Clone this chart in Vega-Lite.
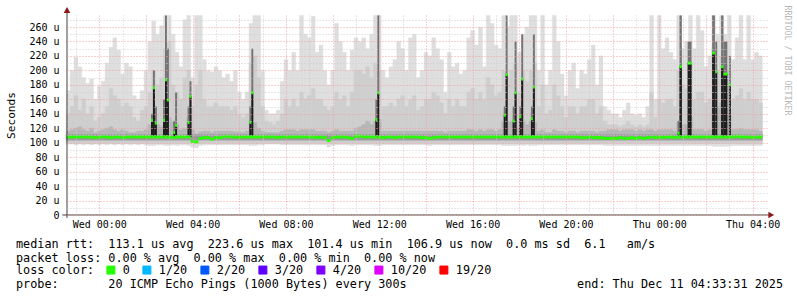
{
"$schema":"https://vega.github.io/schema/vega-lite/v6.json",
"width":700,"height":200,
"autosize":{"type":"none"},
"padding":{"left":67,"top":15,"right":30,"bottom":82},
"background":"#ffffff",
"config":{"view":{"stroke":null}},
"title":{"text":["median rtt:\u00a0\u00a0113.1 us avg\u00a0\u00a0223.6 us max\u00a0\u00a0101.4 us min\u00a0\u00a0106.9 us now\u00a0\u00a00.0 ms sd\u00a0\u00a06.1\u00a0\u00a0\u00a0am/s","packet loss: 0.00 % avg\u00a0\u00a00.00 % max\u00a0\u00a00.00 % min\u00a0\u00a00.00 % now"],
"subtitle":"probe:\u00a0\u00a0\u00a0\u00a0\u00a0\u00a0\u00a020 ICMP Echo Pings (1000 Bytes) every 300s\u00a0\u00a0\u00a0\u00a0\u00a0\u00a0\u00a0\u00a0\u00a0\u00a0\u00a0\u00a0\u00a0\u00a0\u00a0\u00a0\u00a0\u00a0\u00a0\u00a0\u00a0\u00a0\u00a0\u00a0end: Thu Dec 11 04:33:31 2025",
"subtitleFont":"DejaVu Sans Mono","subtitleFontSize":11.8,"subtitleFontWeight":"normal","subtitleColor":"#000000","subtitlePadding":14.4,
"orient":"bottom","anchor":"start","frame":"group","font":"DejaVu Sans Mono","fontSize":11.8,"fontWeight":"normal","color":"#000000","lineHeight":13.9,"offset":6,"dx":-51,"dy":-44,"baseline":"top"},
"datasets":{
"cols":[
{"t":-85,"t2":-75,"lo":98,"q":116,"mid":140,"hi":172,"med":108,"loss":"0"},
{"t":-75,"t2":-65,"lo":98,"q":118,"mid":150,"hi":200,"med":108,"loss":"0"},
{"t":-65,"t2":-55,"lo":97,"q":120,"mid":165,"hi":218,"med":108,"loss":"0"},
{"t":-55,"t2":-45,"lo":98,"q":122,"mid":145,"hi":205,"med":108,"loss":"0"},
{"t":-45,"t2":-35,"lo":97,"q":118,"mid":160,"hi":190,"med":108,"loss":"0"},
{"t":-35,"t2":-25,"lo":98,"q":116,"mid":140,"hi":182,"med":108,"loss":"0"},
{"t":-25,"t2":-15,"lo":97,"q":120,"mid":150,"hi":188,"med":108,"loss":"0"},
{"t":-15,"t2":-5,"lo":98,"q":114,"mid":130,"hi":160,"med":107,"loss":"0"},
{"t":-5,"t2":5,"lo":97,"q":116,"mid":135,"hi":178,"med":108,"loss":"0"},
{"t":5,"t2":15,"lo":98,"q":118,"mid":140,"hi":185,"med":108,"loss":"0"},
{"t":15,"t2":25,"lo":97,"q":120,"mid":150,"hi":210,"med":108,"loss":"0"},
{"t":25,"t2":35,"lo":98,"q":122,"mid":175,"hi":232,"med":107,"loss":"0"},
{"t":35,"t2":45,"lo":97,"q":118,"mid":165,"hi":245,"med":108,"loss":"0"},
{"t":45,"t2":55,"lo":98,"q":116,"mid":160,"hi":228,"med":108,"loss":"0"},
{"t":55,"t2":65,"lo":97,"q":118,"mid":150,"hi":195,"med":107,"loss":"0"},
{"t":65,"t2":75,"lo":98,"q":116,"mid":155,"hi":210,"med":108,"loss":"0"},
{"t":75,"t2":85,"lo":97,"q":114,"mid":150,"hi":205,"med":108,"loss":"0"},
{"t":85,"t2":95,"lo":98,"q":114,"mid":135,"hi":165,"med":108,"loss":"0"},
{"t":95,"t2":105,"lo":97,"q":116,"mid":130,"hi":160,"med":108,"loss":"0"},
{"t":105,"t2":115,"lo":98,"q":116,"mid":145,"hi":172,"med":108,"loss":"0"},
{"t":115,"t2":125,"lo":97,"q":118,"mid":150,"hi":200,"med":108,"loss":"0"},
{"t":125,"t2":135,"lo":96,"q":125,"mid":170,"hi":240,"med":108,"loss":"0"},
{"t":135,"t2":145,"lo":96,"q":135,"mid":200,"hi":268,"med":108,"loss":"0"},
{"t":145,"t2":155,"lo":97,"q":125,"mid":180,"hi":250,"med":108,"loss":"0"},
{"t":155,"t2":165,"lo":97,"q":122,"mid":190,"hi":262,"med":108,"loss":"0"},
{"t":165,"t2":175,"lo":96,"q":140,"mid":230,"hi":276,"med":108,"loss":"0"},
{"t":175,"t2":185,"lo":96,"q":135,"mid":240,"hi":276,"med":108,"loss":"0"},
{"t":185,"t2":195,"lo":97,"q":130,"mid":180,"hi":250,"med":107,"loss":"0"},
{"t":195,"t2":205,"lo":96,"q":125,"mid":170,"hi":225,"med":108,"loss":"0"},
{"t":205,"t2":215,"lo":97,"q":118,"mid":160,"hi":205,"med":108,"loss":"0"},
{"t":215,"t2":225,"lo":97,"q":120,"mid":190,"hi":270,"med":108,"loss":"0"},
{"t":225,"t2":235,"lo":96,"q":135,"mid":200,"hi":276,"med":108,"loss":"0"},
{"t":235,"t2":245,"lo":94,"q":118,"mid":150,"hi":190,"med":102,"loss":"0"},
{"t":245,"t2":255,"lo":93,"q":112,"mid":180,"hi":276,"med":101,"loss":"0"},
{"t":255,"t2":265,"lo":96,"q":115,"mid":200,"hi":276,"med":106,"loss":"0"},
{"t":265,"t2":275,"lo":97,"q":116,"mid":160,"hi":215,"med":107,"loss":"0"},
{"t":275,"t2":285,"lo":97,"q":116,"mid":150,"hi":200,"med":107,"loss":"0"},
{"t":285,"t2":295,"lo":97,"q":114,"mid":150,"hi":198,"med":105,"loss":"0"},
{"t":295,"t2":305,"lo":97,"q":116,"mid":155,"hi":205,"med":107,"loss":"0"},
{"t":305,"t2":315,"lo":97,"q":116,"mid":150,"hi":200,"med":107,"loss":"0"},
{"t":315,"t2":325,"lo":97,"q":116,"mid":150,"hi":190,"med":108,"loss":"0"},
{"t":325,"t2":335,"lo":97,"q":116,"mid":150,"hi":195,"med":109,"loss":"0"},
{"t":335,"t2":345,"lo":97,"q":116,"mid":145,"hi":185,"med":108,"loss":"0"},
{"t":345,"t2":355,"lo":97,"q":115,"mid":150,"hi":200,"med":108,"loss":"0"},
{"t":355,"t2":365,"lo":97,"q":115,"mid":140,"hi":170,"med":107,"loss":"0"},
{"t":365,"t2":375,"lo":97,"q":114,"mid":135,"hi":160,"med":108,"loss":"0"},
{"t":375,"t2":385,"lo":97,"q":116,"mid":140,"hi":170,"med":108,"loss":"0"},
{"t":385,"t2":395,"lo":96,"q":130,"mid":210,"hi":265,"med":108,"loss":"0"},
{"t":395,"t2":405,"lo":96,"q":128,"mid":220,"hi":276,"med":108,"loss":"0"},
{"t":405,"t2":415,"lo":97,"q":120,"mid":190,"hi":276,"med":108,"loss":"0"},
{"t":415,"t2":425,"lo":97,"q":116,"mid":150,"hi":200,"med":108,"loss":"0"},
{"t":425,"t2":435,"lo":98,"q":114,"mid":130,"hi":145,"med":108,"loss":"0"},
{"t":435,"t2":445,"lo":98,"q":114,"mid":128,"hi":140,"med":108,"loss":"0"},
{"t":445,"t2":455,"lo":98,"q":114,"mid":125,"hi":140,"med":108,"loss":"0"},
{"t":455,"t2":465,"lo":98,"q":114,"mid":130,"hi":145,"med":107,"loss":"0"},
{"t":465,"t2":475,"lo":97,"q":116,"mid":140,"hi":185,"med":108,"loss":"0"},
{"t":475,"t2":485,"lo":97,"q":118,"mid":160,"hi":215,"med":108,"loss":"0"},
{"t":485,"t2":495,"lo":97,"q":118,"mid":150,"hi":200,"med":108,"loss":"0"},
{"t":495,"t2":505,"lo":97,"q":118,"mid":160,"hi":225,"med":108,"loss":"0"},
{"t":505,"t2":515,"lo":97,"q":116,"mid":150,"hi":200,"med":108,"loss":"0"},
{"t":515,"t2":525,"lo":97,"q":118,"mid":170,"hi":276,"med":108,"loss":"0"},
{"t":525,"t2":535,"lo":97,"q":118,"mid":160,"hi":250,"med":108,"loss":"0"},
{"t":535,"t2":545,"lo":97,"q":118,"mid":165,"hi":245,"med":108,"loss":"0"},
{"t":545,"t2":555,"lo":97,"q":118,"mid":175,"hi":275,"med":108,"loss":"0"},
{"t":555,"t2":565,"lo":97,"q":116,"mid":160,"hi":225,"med":107,"loss":"0"},
{"t":565,"t2":575,"lo":97,"q":116,"mid":160,"hi":235,"med":108,"loss":"0"},
{"t":575,"t2":585,"lo":97,"q":116,"mid":150,"hi":200,"med":107,"loss":"0"},
{"t":585,"t2":595,"lo":94,"q":114,"mid":145,"hi":180,"med":103,"loss":"0"},
{"t":595,"t2":605,"lo":96,"q":116,"mid":150,"hi":200,"med":107,"loss":"0"},
{"t":605,"t2":615,"lo":97,"q":118,"mid":170,"hi":265,"med":108,"loss":"0"},
{"t":615,"t2":625,"lo":97,"q":116,"mid":160,"hi":240,"med":108,"loss":"0"},
{"t":625,"t2":635,"lo":97,"q":116,"mid":165,"hi":225,"med":108,"loss":"0"},
{"t":635,"t2":645,"lo":97,"q":116,"mid":150,"hi":200,"med":107,"loss":"0"},
{"t":645,"t2":655,"lo":96,"q":116,"mid":170,"hi":228,"med":106,"loss":"0"},
{"t":655,"t2":665,"lo":97,"q":120,"mid":200,"hi":245,"med":109,"loss":"0"},
{"t":665,"t2":675,"lo":97,"q":122,"mid":200,"hi":240,"med":109,"loss":"0"},
{"t":675,"t2":685,"lo":97,"q":125,"mid":195,"hi":245,"med":108,"loss":"0"},
{"t":685,"t2":695,"lo":97,"q":130,"mid":205,"hi":230,"med":108,"loss":"0"},
{"t":695,"t2":705,"lo":97,"q":125,"mid":190,"hi":250,"med":108,"loss":"0"},
{"t":705,"t2":715,"lo":96,"q":130,"mid":210,"hi":276,"med":108,"loss":"0"},
{"t":715,"t2":725,"lo":96,"q":132,"mid":200,"hi":276,"med":108,"loss":"0"},
{"t":725,"t2":735,"lo":97,"q":116,"mid":150,"hi":200,"med":107,"loss":"0"},
{"t":735,"t2":745,"lo":97,"q":116,"mid":150,"hi":190,"med":108,"loss":"0"},
{"t":745,"t2":755,"lo":97,"q":116,"mid":155,"hi":205,"med":108,"loss":"0"},
{"t":755,"t2":765,"lo":97,"q":116,"mid":150,"hi":215,"med":107,"loss":"0"},
{"t":765,"t2":775,"lo":97,"q":116,"mid":160,"hi":240,"med":108,"loss":"0"},
{"t":775,"t2":785,"lo":97,"q":116,"mid":165,"hi":230,"med":108,"loss":"0"},
{"t":785,"t2":795,"lo":97,"q":116,"mid":150,"hi":200,"med":108,"loss":"0"},
{"t":795,"t2":805,"lo":97,"q":116,"mid":160,"hi":245,"med":108,"loss":"0"},
{"t":805,"t2":815,"lo":97,"q":116,"mid":165,"hi":250,"med":108,"loss":"0"},
{"t":815,"t2":825,"lo":97,"q":116,"mid":145,"hi":190,"med":108,"loss":"0"},
{"t":825,"t2":835,"lo":97,"q":116,"mid":150,"hi":200,"med":107,"loss":"0"},
{"t":835,"t2":845,"lo":97,"q":116,"mid":160,"hi":225,"med":107,"loss":"0"},
{"t":845,"t2":855,"lo":96,"q":116,"mid":160,"hi":220,"med":106,"loss":"0"},
{"t":855,"t2":865,"lo":97,"q":116,"mid":170,"hi":245,"med":107,"loss":"0"},
{"t":865,"t2":875,"lo":97,"q":116,"mid":165,"hi":230,"med":108,"loss":"0"},
{"t":875,"t2":885,"lo":97,"q":116,"mid":155,"hi":215,"med":108,"loss":"0"},
{"t":885,"t2":895,"lo":97,"q":114,"mid":140,"hi":170,"med":108,"loss":"0"},
{"t":895,"t2":905,"lo":97,"q":116,"mid":160,"hi":225,"med":108,"loss":"0"},
{"t":905,"t2":915,"lo":97,"q":116,"mid":150,"hi":205,"med":108,"loss":"0"},
{"t":915,"t2":925,"lo":97,"q":116,"mid":160,"hi":210,"med":108,"loss":"0"},
{"t":925,"t2":935,"lo":97,"q":116,"mid":150,"hi":195,"med":108,"loss":"0"},
{"t":935,"t2":945,"lo":97,"q":116,"mid":150,"hi":200,"med":108,"loss":"0"},
{"t":945,"t2":955,"lo":97,"q":118,"mid":170,"hi":245,"med":108,"loss":"0"},
{"t":955,"t2":965,"lo":97,"q":118,"mid":175,"hi":255,"med":108,"loss":"0"},
{"t":965,"t2":975,"lo":97,"q":116,"mid":160,"hi":235,"med":108,"loss":"0"},
{"t":975,"t2":985,"lo":97,"q":118,"mid":170,"hi":260,"med":108,"loss":"0"},
{"t":985,"t2":995,"lo":97,"q":116,"mid":160,"hi":205,"med":108,"loss":"0"},
{"t":995,"t2":1005,"lo":97,"q":118,"mid":190,"hi":276,"med":108,"loss":"0"},
{"t":1005,"t2":1015,"lo":97,"q":118,"mid":180,"hi":265,"med":108,"loss":"0"},
{"t":1015,"t2":1025,"lo":97,"q":116,"mid":165,"hi":235,"med":108,"loss":"0"},
{"t":1025,"t2":1035,"lo":97,"q":118,"mid":170,"hi":230,"med":108,"loss":"0"},
{"t":1035,"t2":1045,"lo":96,"q":130,"mid":200,"hi":276,"med":108,"loss":"0"},
{"t":1045,"t2":1055,"lo":96,"q":128,"mid":190,"hi":260,"med":108,"loss":"0"},
{"t":1055,"t2":1065,"lo":96,"q":130,"mid":200,"hi":276,"med":108,"loss":"0"},
{"t":1065,"t2":1075,"lo":96,"q":130,"mid":210,"hi":276,"med":108,"loss":"0"},
{"t":1075,"t2":1085,"lo":97,"q":120,"mid":170,"hi":225,"med":108,"loss":"0"},
{"t":1085,"t2":1095,"lo":96,"q":130,"mid":200,"hi":250,"med":108,"loss":"0"},
{"t":1095,"t2":1105,"lo":97,"q":125,"mid":185,"hi":260,"med":108,"loss":"0"},
{"t":1105,"t2":1115,"lo":96,"q":130,"mid":200,"hi":276,"med":108,"loss":"0"},
{"t":1115,"t2":1125,"lo":96,"q":128,"mid":210,"hi":276,"med":108,"loss":"0"},
{"t":1125,"t2":1135,"lo":97,"q":116,"mid":150,"hi":200,"med":108,"loss":"0"},
{"t":1135,"t2":1145,"lo":97,"q":118,"mid":180,"hi":276,"med":108,"loss":"0"},
{"t":1145,"t2":1155,"lo":97,"q":114,"mid":140,"hi":180,"med":108,"loss":"0"},
{"t":1155,"t2":1165,"lo":97,"q":114,"mid":145,"hi":200,"med":108,"loss":"0"},
{"t":1165,"t2":1175,"lo":97,"q":118,"mid":180,"hi":276,"med":108,"loss":"0"},
{"t":1175,"t2":1185,"lo":97,"q":116,"mid":165,"hi":240,"med":108,"loss":"0"},
{"t":1185,"t2":1195,"lo":97,"q":116,"mid":150,"hi":195,"med":108,"loss":"0"},
{"t":1195,"t2":1205,"lo":97,"q":114,"mid":135,"hi":165,"med":108,"loss":"0"},
{"t":1205,"t2":1215,"lo":97,"q":116,"mid":150,"hi":200,"med":108,"loss":"0"},
{"t":1215,"t2":1225,"lo":97,"q":116,"mid":150,"hi":210,"med":108,"loss":"0"},
{"t":1225,"t2":1235,"lo":97,"q":114,"mid":140,"hi":175,"med":108,"loss":"0"},
{"t":1235,"t2":1245,"lo":97,"q":116,"mid":150,"hi":200,"med":107,"loss":"0"},
{"t":1245,"t2":1255,"lo":97,"q":116,"mid":150,"hi":195,"med":107,"loss":"0"},
{"t":1255,"t2":1265,"lo":97,"q":116,"mid":160,"hi":215,"med":108,"loss":"0"},
{"t":1265,"t2":1275,"lo":97,"q":116,"mid":160,"hi":235,"med":107,"loss":"0"},
{"t":1275,"t2":1285,"lo":97,"q":114,"mid":140,"hi":180,"med":107,"loss":"0"},
{"t":1285,"t2":1295,"lo":97,"q":116,"mid":150,"hi":220,"med":107,"loss":"0"},
{"t":1295,"t2":1305,"lo":96,"q":116,"mid":130,"hi":150,"med":106,"loss":"0"},
{"t":1305,"t2":1315,"lo":96,"q":118,"mid":125,"hi":145,"med":106,"loss":"0"},
{"t":1315,"t2":1325,"lo":96,"q":118,"mid":125,"hi":140,"med":106,"loss":"0"},
{"t":1325,"t2":1335,"lo":96,"q":118,"mid":125,"hi":140,"med":106,"loss":"0"},
{"t":1335,"t2":1345,"lo":96,"q":116,"mid":122,"hi":135,"med":107,"loss":"0"},
{"t":1345,"t2":1355,"lo":96,"q":118,"mid":125,"hi":145,"med":106,"loss":"0"},
{"t":1355,"t2":1365,"lo":96,"q":118,"mid":130,"hi":155,"med":106,"loss":"0"},
{"t":1365,"t2":1375,"lo":96,"q":118,"mid":125,"hi":140,"med":107,"loss":"0"},
{"t":1375,"t2":1385,"lo":96,"q":116,"mid":122,"hi":138,"med":106,"loss":"0"},
{"t":1385,"t2":1395,"lo":96,"q":118,"mid":125,"hi":140,"med":107,"loss":"0"},
{"t":1395,"t2":1405,"lo":96,"q":116,"mid":122,"hi":135,"med":106,"loss":"0"},
{"t":1405,"t2":1415,"lo":96,"q":118,"mid":125,"hi":150,"med":107,"loss":"0"},
{"t":1415,"t2":1425,"lo":96,"q":118,"mid":170,"hi":276,"med":108,"loss":"0"},
{"t":1425,"t2":1435,"lo":96,"q":116,"mid":135,"hi":160,"med":107,"loss":"0"},
{"t":1435,"t2":1445,"lo":96,"q":118,"mid":160,"hi":276,"med":108,"loss":"0"},
{"t":1445,"t2":1455,"lo":96,"q":118,"mid":155,"hi":230,"med":107,"loss":"0"},
{"t":1455,"t2":1465,"lo":96,"q":118,"mid":160,"hi":245,"med":108,"loss":"0"},
{"t":1465,"t2":1475,"lo":96,"q":118,"mid":160,"hi":225,"med":108,"loss":"0"},
{"t":1475,"t2":1485,"lo":96,"q":116,"mid":150,"hi":215,"med":107,"loss":"0"},
{"t":1485,"t2":1495,"lo":96,"q":130,"mid":200,"hi":276,"med":108,"loss":"0"},
{"t":1495,"t2":1505,"lo":96,"q":125,"mid":180,"hi":230,"med":108,"loss":"0"},
{"t":1505,"t2":1515,"lo":96,"q":125,"mid":175,"hi":240,"med":108,"loss":"0"},
{"t":1515,"t2":1525,"lo":96,"q":135,"mid":210,"hi":276,"med":108,"loss":"0"},
{"t":1525,"t2":1535,"lo":96,"q":118,"mid":160,"hi":230,"med":108,"loss":"0"},
{"t":1535,"t2":1545,"lo":96,"q":118,"mid":170,"hi":276,"med":108,"loss":"0"},
{"t":1545,"t2":1555,"lo":96,"q":118,"mid":170,"hi":255,"med":108,"loss":"0"},
{"t":1555,"t2":1565,"lo":96,"q":116,"mid":155,"hi":205,"med":108,"loss":"0"},
{"t":1565,"t2":1575,"lo":96,"q":118,"mid":160,"hi":220,"med":108,"loss":"0"},
{"t":1575,"t2":1585,"lo":95,"q":150,"mid":230,"hi":276,"med":108,"loss":"0"},
{"t":1585,"t2":1595,"lo":95,"q":150,"mid":200,"hi":250,"med":108,"loss":"0"},
{"t":1595,"t2":1605,"lo":95,"q":155,"mid":220,"hi":276,"med":108,"loss":"0"},
{"t":1605,"t2":1615,"lo":95,"q":150,"mid":210,"hi":250,"med":108,"loss":"0"},
{"t":1615,"t2":1625,"lo":95,"q":140,"mid":200,"hi":276,"med":108,"loss":"0"},
{"t":1625,"t2":1635,"lo":96,"q":118,"mid":160,"hi":215,"med":108,"loss":"0"},
{"t":1635,"t2":1645,"lo":96,"q":118,"mid":165,"hi":245,"med":109,"loss":"0"},
{"t":1645,"t2":1655,"lo":96,"q":120,"mid":175,"hi":276,"med":108,"loss":"0"},
{"t":1655,"t2":1665,"lo":96,"q":118,"mid":160,"hi":215,"med":108,"loss":"0"},
{"t":1665,"t2":1675,"lo":96,"q":118,"mid":170,"hi":276,"med":108,"loss":"0"},
{"t":1675,"t2":1685,"lo":96,"q":118,"mid":160,"hi":215,"med":107,"loss":"0"},
{"t":1685,"t2":1695,"lo":96,"q":118,"mid":160,"hi":225,"med":108,"loss":"0"},
{"t":1695,"t2":1705,"lo":96,"q":116,"mid":155,"hi":220,"med":108,"loss":"0"}
],
"spikes":[
{"t":133,"t2":138,"top":140,"med":131,"loss":"0"},
{"t":138,"t2":143,"top":200,"med":176,"loss":"0"},
{"t":143,"t2":148,"top":150,"med":127,"loss":"0"},
{"t":164,"t2":169,"top":160,"med":131,"loss":"0"},
{"t":169,"t2":174,"top":276,"med":187,"loss":"0"},
{"t":174,"t2":179,"top":230,"med":159,"loss":"0"},
{"t":190,"t2":195,"top":130,"med":114,"loss":"0"},
{"t":195,"t2":200,"top":170,"med":124,"loss":"0"},
{"t":227,"t2":232,"top":150,"med":128,"loss":"0"},
{"t":232,"t2":237,"top":185,"med":164,"loss":"0"},
{"t":386,"t2":391,"top":150,"med":128,"loss":"0"},
{"t":391,"t2":396,"top":230,"med":169,"loss":"0"},
{"t":710,"t2":715,"top":160,"med":132,"loss":"0"},
{"t":715,"t2":720,"top":276,"med":169,"loss":"0"},
{"t":1040,"t2":1045,"top":150,"med":138,"loss":"0"},
{"t":1045,"t2":1050,"top":276,"med":194,"loss":"0"},
{"t":1063,"t2":1068,"top":150,"med":130,"loss":"0"},
{"t":1068,"t2":1073,"top":240,"med":169,"loss":"0"},
{"t":1080,"t2":1085,"top":150,"med":136,"loss":"0"},
{"t":1085,"t2":1090,"top":250,"med":188,"loss":"0"},
{"t":1110,"t2":1115,"top":150,"med":133,"loss":"0"},
{"t":1115,"t2":1120,"top":250,"med":177,"loss":"0"},
{"t":1487,"t2":1492,"top":130,"med":113,"loss":"0"},
{"t":1492,"t2":1498,"top":276,"med":205,"loss":"0"},
{"t":1513,"t2":1523,"top":240,"med":210,"loss":"0"},
{"t":1576,"t2":1583,"top":276,"med":224,"loss":"0"},
{"t":1584,"t2":1589,"top":240,"med":198,"loss":"0"},
{"t":1599,"t2":1605,"top":276,"med":205,"loss":"0"},
{"t":1605,"t2":1615,"top":240,"med":195,"loss":"0"},
{"t":1619,"t2":1624,"top":220,"med":180,"loss":"0"}
]
},
"layer":[
{"data":{"name":"cols"},
 "mark":{"type":"rect","color":"#DEDEDE","stroke":"#DEDEDE","strokeWidth":0.4},
 "encoding":{
  "x":{"field":"t","type":"quantitative","scale":{"domain":[-83,1717],"nice":false,"zero":false},
   "axis":{"orient":"bottom","title":null,"values":[-60,0,60,120,180,240,300,360,420,480,540,600,660,720,780,840,900,960,1020,1080,1140,1200,1260,1320,1380,1440,1500,1560,1620,1680],
    "domain":false,"ticks":false,"tickSize":0,
    "labelExpr":"datum.value % 240 == 0 ? ((datum.value < 1440 ? 'Wed ' : 'Thu ') + (datum.value % 1440 < 600 ? '0' : '') + floor((datum.value % 1440) / 60) + ':00') : ''",
    "labelFont":"DejaVu Sans Mono","labelFontSize":10,"labelColor":"#000000","labelPadding":4,"labelOverlap":false,"labelFlush":false,
    "grid":true,"gridColor":{"condition":{"test":"datum.value % 120 == 0","value":"#F0A0A0"},"value":"#CFCFCF"},"gridDash":[1,2],"gridWidth":1,"gridOpacity":1,"zindex":1}},
  "x2":{"field":"t2"},
  "y":{"field":"hi","type":"quantitative","scale":{"domain":[0,276.6],"nice":false,"zero":false},
   "axis":{"orient":"left","values":[0,10,20,30,40,50,60,70,80,90,100,110,120,130,140,150,160,170,180,190,200,210,220,230,240,250,260,270],
    "title":"Seconds","titleFont":"DejaVu Sans Mono","titleFontSize":11.1,"titleFontWeight":"normal","titleColor":"#000000","titleX":-56,"titleY":100,"titleAngle":270,"titleAlign":"center","titleBaseline":"middle",
    "domain":false,"ticks":false,"tickSize":0,"labelPadding":8,
    "labelExpr":"datum.value % 20 == 0 ? (datum.value == 0 ? '0' : datum.value + ' u') : ''",
    "labelFont":"DejaVu Sans Mono","labelFontSize":10,"labelColor":"#000000","labelOverlap":false,
    "grid":true,"gridColor":{"condition":{"test":"datum.value % 20 == 0","value":"#F0A0A0"},"value":"#CFCFCF"},"gridDash":[1,2],"gridWidth":1,"gridOpacity":1,"zindex":1}},
  "y2":{"field":"lo"}}},
{"data":{"name":"cols"},
 "mark":{"type":"rect","color":"#CECECE","stroke":"#CECECE","strokeWidth":0.4},
 "encoding":{
  "x":{"field":"t","type":"quantitative","scale":{"domain":[-83,1717],"nice":false,"zero":false},"axis":null},
  "x2":{"field":"t2"},
  "y":{"field":"mid","type":"quantitative","scale":{"domain":[0,276.6],"nice":false,"zero":false},"axis":null},
  "y2":{"datum":99}}},
{"data":{"name":"cols"},
 "mark":{"type":"rect","color":"#B6B6B6","stroke":"#B6B6B6","strokeWidth":0.4},
 "encoding":{
  "x":{"field":"t","type":"quantitative","scale":{"domain":[-83,1717],"nice":false,"zero":false},"axis":null},
  "x2":{"field":"t2"},
  "y":{"field":"q","type":"quantitative","scale":{"domain":[0,276.6],"nice":false,"zero":false},"axis":null},
  "y2":{"datum":103}}},
{"data":{"name":"cols"},
 "mark":{"type":"rect","color":"#999999","stroke":"#999999","strokeWidth":0.4},
 "encoding":{
  "x":{"field":"t","type":"quantitative","scale":{"domain":[-83,1717],"nice":false,"zero":false},"axis":null},
  "x2":{"field":"t2"},
  "y":{"datum":111,"type":"quantitative","scale":{"domain":[0,276.6],"nice":false,"zero":false},"axis":null},
  "y2":{"datum":104}}},
{"data":{"name":"spikes"},
 "mark":{"type":"rect","color":"#747474"},
 "encoding":{
  "x":{"field":"t","type":"quantitative","scale":{"domain":[-83,1717],"nice":false,"zero":false},"axis":null},
  "x2":{"field":"t2"},
  "y":{"field":"top","type":"quantitative","scale":{"domain":[0,276.6],"nice":false,"zero":false},"axis":null},
  "y2":{"datum":108}}},
{"data":{"name":"spikes"},
 "mark":{"type":"rect","color":"#1E1E1E"},
 "encoding":{
  "x":{"field":"t","type":"quantitative","scale":{"domain":[-83,1717],"nice":false,"zero":false},"axis":null},
  "x2":{"field":"t2"},
  "y":{"field":"med","type":"quantitative","scale":{"domain":[0,276.6],"nice":false,"zero":false},"axis":null},
  "y2":{"datum":108}}},
{"data":{"name":"cols"},
 "mark":{"type":"rule","strokeWidth":3},
 "encoding":{
  "x":{"field":"t","type":"quantitative","scale":{"domain":[-83,1717],"nice":false,"zero":false},"axis":null},
  "x2":{"field":"t2"},
  "y":{"field":"med","type":"quantitative","scale":{"domain":[0,276.6],"nice":false,"zero":false},"axis":null},
  "color":{"field":"loss","type":"nominal","scale":{"domain":["0","1/20","2/20","3/20","4/20","10/20","19/20"],"range":["#26ff00","#00b8ff","#0059ff","#5e00ff","#7e00ff","#dd00ff","#ff0000"]},
   "legend":{"orient":"none","legendX":-51,"legendY":249,"direction":"horizontal","title":"loss color:","titleOrient":"left","titleFont":"DejaVu Sans Mono","titleFontSize":11.8,"titleFontWeight":"normal","titleColor":"#000000","titlePadding":10,
    "labelFont":"DejaVu Sans Mono","labelFontSize":11.8,"labelColor":"#000000","labelOffset":6,"columnPadding":10,"symbolType":"square","symbolSize":64,"symbolStrokeColor":"#000000","symbolStrokeWidth":1,"symbolOpacity":1,
    "encode":{"symbols":{"update":{"fill":{"scale":"color","field":"value"},"stroke":{"value":"#000000"},"strokeWidth":{"value":1},"opacity":{"value":1}}}}}}}},
{"data":{"name":"spikes"},
 "mark":{"type":"rule","strokeWidth":3},
 "encoding":{
  "x":{"field":"t","type":"quantitative","scale":{"domain":[-83,1717],"nice":false,"zero":false},"axis":null},
  "x2":{"field":"t2"},
  "y":{"field":"med","type":"quantitative","scale":{"domain":[0,276.6],"nice":false,"zero":false},"axis":null},
  "color":{"field":"loss","type":"nominal","legend":null}}},
{"data":{"values":[{}]},
 "mark":{"type":"rule","color":"#404040","strokeWidth":1},
 "encoding":{
  "x":{"datum":-95,"type":"quantitative","scale":{"domain":[-83,1717],"nice":false,"zero":false},"axis":null},
  "x2":{"datum":1726},
  "y":{"datum":0,"type":"quantitative","scale":{"domain":[0,276.6],"nice":false,"zero":false},"axis":null}}},
{"data":{"values":[{}]},
 "mark":{"type":"rule","color":"#404040","strokeWidth":1},
 "encoding":{
  "x":{"datum":-83,"type":"quantitative","scale":{"domain":[-83,1717],"nice":false,"zero":false},"axis":null},
  "y":{"datum":-4,"type":"quantitative","scale":{"domain":[0,276.6],"nice":false,"zero":false},
   "axis":{"orient":"right","title":"RRDTOOL / TOBI OETIKER","titleFont":"DejaVu Sans Mono","titleFontSize":8.3,"titleFontWeight":"normal","titleColor":"#B8B8B8","titleAngle":90,"titleX":19,"titleY":45,"titleAlign":"center","titleBaseline":"middle","domain":false,"ticks":false,"labels":false,"grid":false}},
  "y2":{"datum":282}}},
{"data":{"values":[{}]},
 "mark":{"type":"point","shape":"triangle-up","filled":true,"size":45,"color":"#8B1A1A","opacity":1},
 "encoding":{
  "x":{"datum":-83,"type":"quantitative","scale":{"domain":[-83,1717],"nice":false,"zero":false},"axis":null},
  "y":{"datum":283.5,"type":"quantitative","scale":{"domain":[0,276.6],"nice":false,"zero":false},"axis":null}}},
{"data":{"values":[{}]},
 "mark":{"type":"point","shape":"triangle-right","filled":true,"size":45,"color":"#8B1A1A","opacity":1},
 "encoding":{
  "x":{"datum":1728,"type":"quantitative","scale":{"domain":[-83,1717],"nice":false,"zero":false},"axis":null},
  "y":{"datum":0,"type":"quantitative","scale":{"domain":[0,276.6],"nice":false,"zero":false},"axis":null}}}
],
"resolve":{"axis":{"x":"independent","y":"independent"}}
}
